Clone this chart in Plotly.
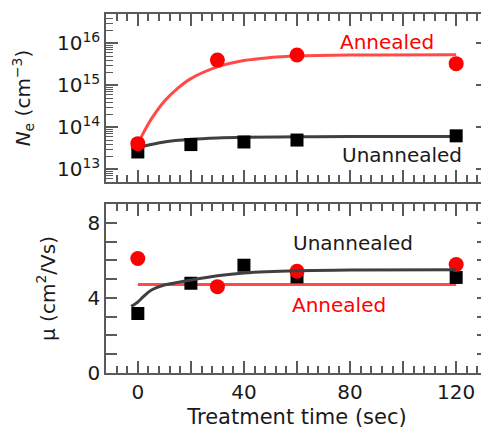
import plotly.graph_objects as go
from plotly.subplots import make_subplots

# ---------------- data ----------------
t_pts_ann_n = [0, 30, 60, 120]
ne_annealed = [4.1e13, 4.0e15, 5.3e15, 3.3e15]
t_pts_un_n = [0, 20, 40, 60, 120]
ne_unannealed = [2.6e13, 3.9e13, 4.5e13, 5.0e13, 6.3e13]

# fit curves
t_fit_ann_n = [0, 2, 5, 10, 15, 20, 30, 40, 50, 60, 80, 120]
ne_fit_ann = [4.0e13, 7.2e13, 1.55e14, 4.2e14, 8.5e14, 1.45e15, 2.75e15, 3.9e15, 4.6e15, 5.0e15, 5.3e15, 5.4e15]
t_fit_un_n = [0, 5, 10, 20, 30, 40, 60, 80, 120]
ne_fit_un = [3.3e13, 3.9e13, 4.5e13, 5.2e13, 5.6e13, 5.8e13, 6.0e13, 6.05e13, 6.1e13]

t_pts_ann_mu = [0, 30, 60, 120]
mu_annealed = [6.1, 4.6, 5.42, 5.78]
t_pts_un_mu = [0, 20, 40, 60, 120]
mu_unannealed = [3.17, 4.78, 5.74, 5.12, 5.09]

t_fit_ann_mu = [0, 120]
mu_fit_ann = [4.71, 4.71]
t_fit_un_mu = [-2.5, -1, 0, 2, 5, 10, 20, 30, 40, 60, 80, 120]
mu_fit_un = [3.55, 3.68, 3.78, 4.05, 4.41, 4.68, 4.95, 5.18, 5.33, 5.45, 5.48, 5.5]

x_tickvals = [0, 20, 40, 60, 80, 100, 120]
x_ticktext = ["0", "", "40", "", "80", "", "120"]
ne_tickvals = [1e13, 1e14, 1e15, 1e16]
ne_ticktext = ["10<sup>13</sup>", "10<sup>14</sup>", "10<sup>15</sup>", "10<sup>16</sup>"]
mu_tickvals = [0, 1, 2, 3, 4, 5, 6, 7, 8]
mu_ticktext = ["0", "", "", "", "4", "", "", "", "8"]

RED = "#ff0000"
RED_LINE = "#ff4a4a"
BLACK = "#000000"
DARK_LINE = "#404040"
AX = "#5a5a5a"
TXT = "#1a1a1a"
FONT = "DejaVu Sans, Liberation Sans, Arial, sans-serif"
FS = 20

fig = make_subplots(rows=2, cols=1, shared_xaxes=False)

# top panel
fig.add_trace(go.Scatter(x=t_fit_un_n, y=ne_fit_un, mode="lines", line=dict(color=DARK_LINE, width=3, shape="spline"), showlegend=False), row=1, col=1)
fig.add_trace(go.Scatter(x=t_fit_ann_n, y=ne_fit_ann, mode="lines", line=dict(color=RED_LINE, width=3, shape="spline"), showlegend=False), row=1, col=1)
fig.add_trace(go.Scatter(x=t_pts_un_n, y=ne_unannealed, mode="markers", marker=dict(symbol="square", size=13, color=BLACK), showlegend=False), row=1, col=1)
fig.add_trace(go.Scatter(x=t_pts_ann_n, y=ne_annealed, mode="markers", marker=dict(symbol="circle", size=15, color=RED), showlegend=False), row=1, col=1)

# bottom panel
fig.add_trace(go.Scatter(x=t_fit_ann_mu, y=mu_fit_ann, mode="lines", line=dict(color=RED_LINE, width=3), showlegend=False), row=2, col=1)
fig.add_trace(go.Scatter(x=t_pts_un_mu, y=mu_unannealed, mode="markers", marker=dict(symbol="square", size=13, color=BLACK), showlegend=False), row=2, col=1)
fig.add_trace(go.Scatter(x=t_pts_ann_mu, y=mu_annealed, mode="markers", marker=dict(symbol="circle", size=15, color=RED), showlegend=False), row=2, col=1)
fig.add_trace(go.Scatter(x=t_fit_un_mu, y=mu_fit_un, mode="lines", line=dict(color=DARK_LINE, width=3, shape="spline"), showlegend=False), row=2, col=1)

common_x = dict(range=[-12, 132], tickvals=x_tickvals, ticks="inside", ticklen=12, tickwidth=1.5,
                tickcolor=AX, showline=True, linecolor=AX, linewidth=1.5, mirror="allticks",
                showgrid=False, zeroline=False, automargin=False,
                minor=dict(dtick=4, tick0=0, ticks="inside", ticklen=7, tickwidth=1.5, tickcolor=AX, showgrid=False))

fig.update_xaxes(**common_x, showticklabels=False, domain=[0, 1], row=1, col=1)
fig.update_xaxes(**common_x, ticktext=x_ticktext, showticklabels=True, domain=[0, 1],
                 title=dict(text="Treatment time (sec)", font=dict(size=21, color=TXT), standoff=7),
                 tickfont=dict(size=FS, color=TXT), row=2, col=1)

fig.update_yaxes(type="log", range=[12.7, 16.7], tickvals=ne_tickvals, ticktext=ne_ticktext,
                 ticks="inside", ticklen=12, tickwidth=1.5, tickcolor=AX,
                 showline=True, linecolor=AX, linewidth=1.5, mirror="allticks",
                 showgrid=False, zeroline=False, domain=[0.532, 1.0], automargin=False,
                 minor=dict(dtick="D1", ticks="inside", ticklen=7, tickwidth=1.2, tickcolor=AX, showgrid=False),
                 tickfont=dict(size=FS, color=TXT),
                 title=dict(text="<i>N</i><sub>e</sub> (cm<sup>−3</sup>)", font=dict(size=FS, color=TXT), standoff=21),
                 row=1, col=1)
fig.update_yaxes(range=[0, 9], tickvals=mu_tickvals, ticktext=mu_ticktext,
                 ticks="inside", ticklen=11, tickwidth=1.5, tickcolor=AX,
                 showline=True, linecolor=AX, linewidth=1.5, mirror="allticks",
                 showgrid=False, zeroline=False, domain=[0, 0.4707], automargin=False,
                 tickfont=dict(size=FS, color=TXT),
                 title=dict(text="μ (cm<sup>2</sup>/Vs)", font=dict(size=FS, color=TXT), standoff=27),
                 row=2, col=1)

fig.add_annotation(x=94, y=16.03, xref="x", yref="y", text="Annealed", showarrow=False,
                   font=dict(size=FS, color=RED, family=FONT))
fig.add_annotation(x=99.4, y=13.35, xref="x", yref="y", text="Unannealed", showarrow=False,
                   font=dict(size=FS, color=TXT, family=FONT))
fig.add_annotation(x=81, y=6.92, xref="x2", yref="y2", text="Unannealed", showarrow=False,
                   font=dict(size=FS, color=TXT, family=FONT))
fig.add_annotation(x=76, y=3.61, xref="x2", yref="y2", text="Annealed", showarrow=False,
                   font=dict(size=FS, color=RED, family=FONT))

# page body adds an 8px offset; size the figure so it fills the 489x429 window
fig.update_layout(width=481, height=421, margin=dict(l=98, r=1, t=6, b=56),
                  paper_bgcolor="white", plot_bgcolor="white",
                  font=dict(family=FONT, size=FS, color=TXT), showlegend=False)

fig.write_html("out.html")
